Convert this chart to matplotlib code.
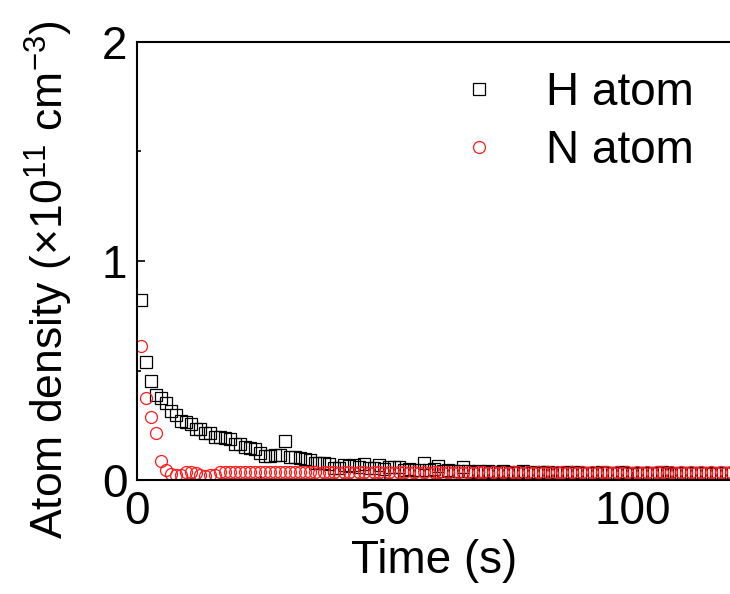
import numpy as np
import matplotlib
matplotlib.use("Agg")
import matplotlib.pyplot as plt
from matplotlib.ticker import MultipleLocator

plt.rcParams['font.family'] = ['Liberation Sans', 'DejaVu Sans']
plt.rcParams['mathtext.fontset'] = 'custom'
plt.rcParams['mathtext.rm'] = 'Liberation Sans'
plt.rcParams['mathtext.it'] = 'Liberation Sans'

# sampling: one point per second, first point at 0.8 s
t_start = 0.8
t_step = 1.0

h_atom = [
    0.82, 0.54, 0.45, 0.39, 0.373, 0.35, 0.316, 0.297, 0.27, 0.263,
    0.254, 0.231, 0.231, 0.216, 0.213, 0.198, 0.195, 0.192, 0.189, 0.164,
    0.163, 0.149, 0.145, 0.14, 0.122, 0.11, 0.11, 0.114, 0.116, 0.178,
    0.104, 0.103, 0.1, 0.094, 0.09, 0.076, 0.078, 0.076, 0.073, 0.053,
    0.056, 0.068, 0.066, 0.068, 0.06, 0.073, 0.053, 0.055, 0.068, 0.05,
    0.058, 0.06, 0.058, 0.045, 0.048, 0.044, 0.045, 0.076, 0.045, 0.05,
    0.064, 0.042, 0.045, 0.04, 0.043, 0.06, 0.042, 0.038, 0.04, 0.036,
    0.041, 0.038, 0.035, 0.04, 0.037, 0.033, 0.036, 0.039, 0.034, 0.036,
    0.032, 0.035, 0.038, 0.033, 0.03, 0.034, 0.036, 0.031, 0.035, 0.033,
    0.03, 0.034, 0.032, 0.036, 0.031, 0.033, 0.03, 0.035, 0.032, 0.029,
    0.033, 0.031, 0.034, 0.03, 0.032, 0.035, 0.031, 0.029, 0.033, 0.03,
    0.032, 0.034, 0.03, 0.031, 0.033, 0.029, 0.032, 0.03, 0.033, 0.031,
]

n_atom = [
    0.61, 0.376, 0.289, 0.213, 0.088, 0.046, 0.027, 0.022, 0.025, 0.035,
    0.038, 0.03, 0.022, 0.02, 0.022, 0.025, 0.035, 0.036, 0.037, 0.036,
    0.037, 0.036, 0.035, 0.036, 0.037, 0.036, 0.035, 0.036, 0.036, 0.035,
    0.036, 0.037, 0.035, 0.036, 0.035, 0.036, 0.034, 0.035, 0.036, 0.035,
    0.034, 0.035, 0.036, 0.034, 0.035, 0.035, 0.034, 0.036, 0.035, 0.034,
    0.035, 0.034, 0.035, 0.036, 0.034, 0.035, 0.034, 0.035, 0.034, 0.035,
    0.036, 0.034, 0.035, 0.034, 0.035, 0.034, 0.035, 0.034, 0.035, 0.036,
    0.034, 0.035, 0.034, 0.035, 0.034, 0.035, 0.036, 0.034, 0.035, 0.034,
    0.035, 0.034, 0.035, 0.034, 0.035, 0.036, 0.034, 0.035, 0.034, 0.035,
    0.034, 0.035, 0.034, 0.035, 0.036, 0.034, 0.035, 0.034, 0.035, 0.034,
    0.035, 0.034, 0.035, 0.034, 0.035, 0.036, 0.034, 0.035, 0.034, 0.035,
    0.034, 0.035, 0.034, 0.035, 0.034, 0.035, 0.034, 0.035, 0.034, 0.035,
]

time_h = t_start + t_step * np.arange(len(h_atom))
time_n = t_start + t_step * np.arange(len(n_atom))

fig = plt.figure(figsize=(7.3, 5.94), dpi=100)
ax = fig.add_axes([0.1877, 0.1919, 0.815, 0.7374])

ax.plot(time_h, h_atom, linestyle="none", marker="s", markersize=8.2,
        markerfacecolor="none", markeredgecolor="black", markeredgewidth=0.9,
        label="H atom")
ax.plot(time_n, n_atom, linestyle="none", marker="o", markersize=8.6,
        markerfacecolor="none", markeredgecolor="#ff1a1a", markeredgewidth=0.9,
        label="N atom")

ax.set_xlim(0, 120)
ax.set_ylim(0, 2)
ax.xaxis.set_major_locator(MultipleLocator(50))
ax.xaxis.set_minor_locator(MultipleLocator(25))
ax.yaxis.set_major_locator(MultipleLocator(1))
ax.yaxis.set_minor_locator(MultipleLocator(0.5))
ax.tick_params(which="both", direction="in", width=1.2, labelsize=33, pad=7)
ax.tick_params(which="major", length=6)
ax.tick_params(which="minor", length=3)
for s in ax.spines.values():
    s.set_linewidth(1.5)

ax.set_xlabel("Time (s)", fontsize=33, labelpad=4)
ax.set_ylabel("Atom density (\u00d710$^{11}$ cm$^{-3}$)", fontsize=32)
ax.yaxis.set_label_coords(-0.104, 0.457)

ax.legend(loc="upper right", frameon=False, fontsize=33, numpoints=1,
          handlelength=1.0, handletextpad=0.95, labelspacing=0.3,
          borderaxespad=0.0, bbox_to_anchor=(0.966, 0.976))

fig.savefig("out.png", dpi=100)
